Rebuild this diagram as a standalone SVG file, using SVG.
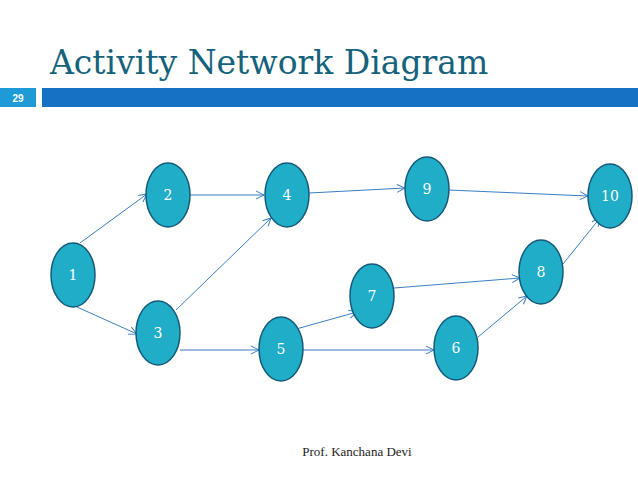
<svg xmlns="http://www.w3.org/2000/svg" width="638" height="479" viewBox="0 0 638 479">
<style>
.n ellipse{fill:#20adc8;stroke:#155a7a;stroke-width:1.5}
.n text{fill:#fff;font-family:"DejaVu Serif",serif;font-size:14px;text-anchor:middle;dominant-baseline:central}
#edges line{stroke:#3a7fc4;stroke-width:1;marker-end:url(#a)}
</style>
<defs><marker id="a" markerWidth="10" markerHeight="10" refX="9" refY="5" orient="auto" markerUnits="userSpaceOnUse"><path d="M1,1 L9,5 L1,9" fill="none" stroke="#3a7fc4" stroke-width="1"/></marker></defs>
<rect width="638" height="479" fill="#fff"/>
<text x="50" y="74" font-family="DejaVu Serif,serif" font-size="33" fill="#14627c">Activity Network Diagram</text>
<rect x="0" y="88" width="36" height="19" fill="#1e9ad6"/>
<text x="18" y="102" font-family="Liberation Sans,sans-serif" font-weight="bold" font-size="10" fill="#fff" text-anchor="middle">29</text>
<rect x="42" y="88" width="596" height="19" fill="#1670c4"/>
<g id="edges">
<line x1="80" y1="243" x2="147" y2="194"/>
<line x1="77" y1="307" x2="137" y2="334"/>
<line x1="190" y1="195" x2="264" y2="195"/>
<line x1="176" y1="310" x2="271" y2="218"/>
<line x1="180" y1="350" x2="259" y2="350"/>
<line x1="289" y1="331" x2="357" y2="312"/>
<line x1="303" y1="350" x2="434" y2="350"/>
<line x1="394" y1="288" x2="520" y2="278"/>
<line x1="478" y1="337" x2="527" y2="296"/>
<line x1="563" y1="264" x2="600" y2="218"/>
<line x1="309" y1="193" x2="405" y2="188"/>
<line x1="448" y1="190" x2="588" y2="196"/>
</g>
<g id="n1" class="n"><ellipse cx="73" cy="275" rx="22" ry="32"/><text x="73" y="275">1</text></g>
<g id="n2" class="n"><ellipse cx="168" cy="195" rx="22" ry="32"/><text x="168" y="195">2</text></g>
<g id="n3" class="n"><ellipse cx="158" cy="333" rx="22" ry="32"/><text x="158" y="333">3</text></g>
<g id="n4" class="n"><ellipse cx="287" cy="195" rx="22" ry="32"/><text x="287" y="195">4</text></g>
<g id="n5" class="n"><ellipse cx="281" cy="349" rx="22" ry="32"/><text x="281" y="349">5</text></g>
<g id="n6" class="n"><ellipse cx="456" cy="348" rx="22" ry="32"/><text x="456" y="348">6</text></g>
<g id="n7" class="n"><ellipse cx="372" cy="296" rx="22" ry="32"/><text x="372" y="296">7</text></g>
<g id="n8" class="n"><ellipse cx="541" cy="272" rx="22" ry="32"/><text x="541" y="272">8</text></g>
<g id="n9" class="n"><ellipse cx="427" cy="189" rx="22" ry="32"/><text x="427" y="189">9</text></g>
<g id="n10" class="n"><ellipse cx="610" cy="196" rx="22" ry="32"/><text x="610" y="196">10</text></g>
<text x="357" y="456" font-family="Liberation Serif,serif" font-size="13" fill="#222" text-anchor="middle">Prof. Kanchana Devi</text>
</svg>
